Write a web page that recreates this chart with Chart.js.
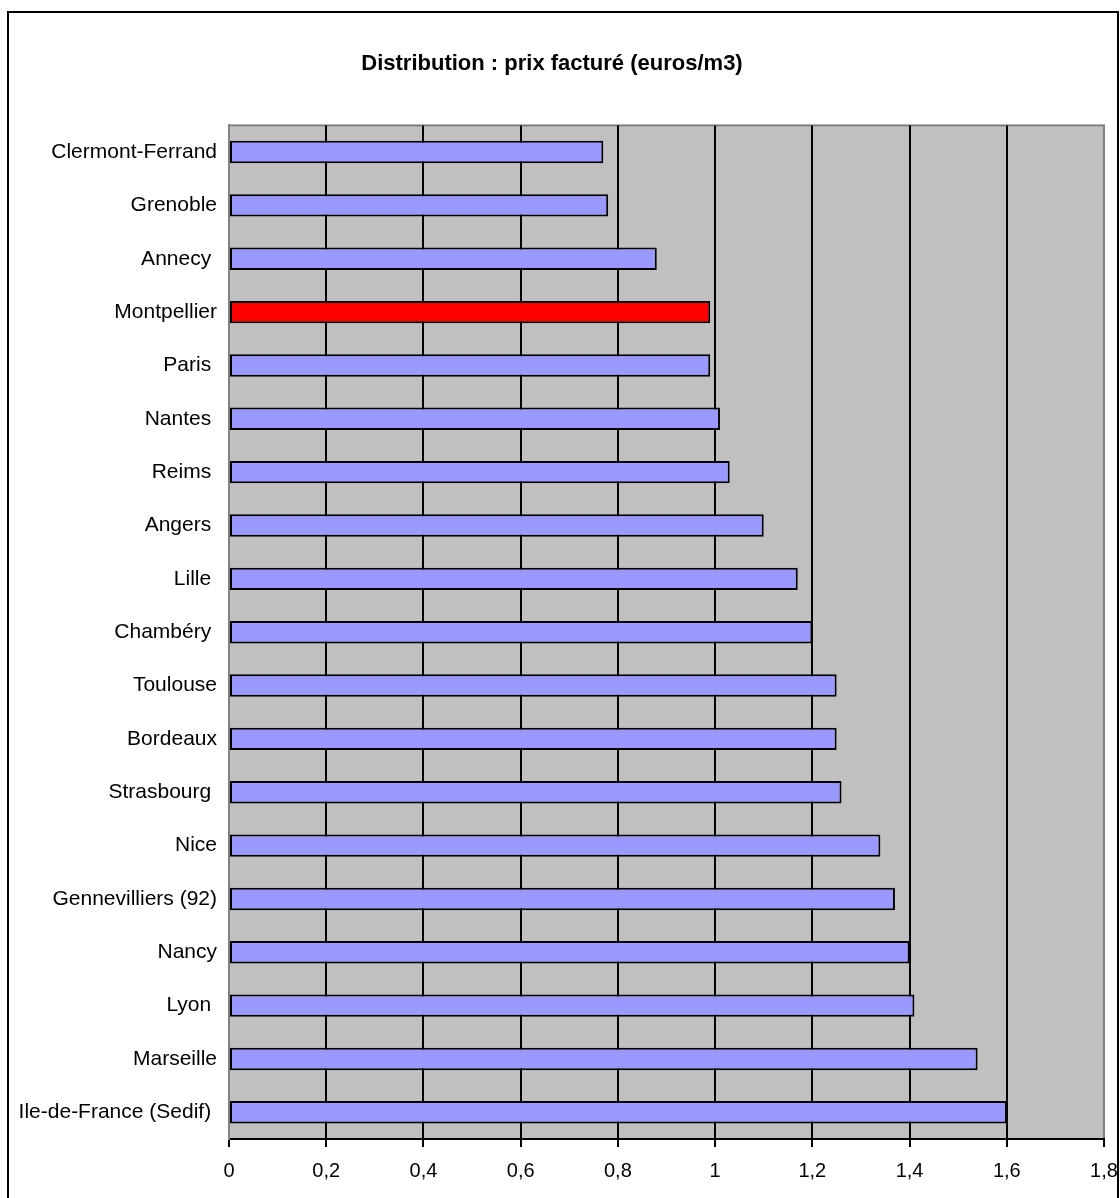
<!DOCTYPE html>
<html>
<head>
<meta charset="utf-8">
<script src="https://cdn.jsdelivr.net/npm/chart.js@4"></script>
<style>
  html, body { margin: 0; padding: 0; background: #fff; overflow: hidden; }
  #wrap { position: relative; width: 1120px; height: 1198px; }
  #frame {
    position: absolute; left: 7px; top: 11px; width: 1108px; height: 1220px;
    border: 2px solid #000; pointer-events: none; z-index: 2;
  }
  canvas { position: absolute; left: 0; top: 0; }
</style>
</head>
<body>
<div id="wrap">
  <canvas id="prixChart" width="1120" height="1198"></canvas>
  <div id="frame"></div>
</div>
<script>
// cities, top to bottom (some labels keep the trailing space of the source sheet)
const villes = [
  'Clermont-Ferrand', 'Grenoble', 'Annecy ', 'Montpellier', 'Paris ', 'Nantes ',
  'Reims ', 'Angers ', 'Lille ', 'Chambéry ', 'Toulouse', 'Bordeaux',
  'Strasbourg ', 'Nice', 'Gennevilliers (92)', 'Nancy', 'Lyon ', 'Marseille',
  'Ile-de-France (Sedif) '
];

// prix facturé, euros/m3
const prix = [
  0.77, 0.78, 0.88, 0.99, 0.99, 1.01,
  1.03, 1.10, 1.17, 1.20, 1.25, 1.25,
  1.26, 1.34, 1.37, 1.40, 1.41, 1.54,
  1.60
];

const villeMiseEnAvant = 'Montpellier';

const xTickLabels = ['0', '0,2', '0,4', '0,6', '0,8', '1', '1,2', '1,4', '1,6', '1,8'];

const barColors = villes.map(v => v === villeMiseEnAvant ? '#FF0000' : '#9999FF');

// grey plot background + grey frame around the plot area
const plotBackground = {
  id: 'plotBackground',
  beforeDraw(chart) {
    const { ctx, chartArea: a } = chart;
    ctx.save();
    ctx.fillStyle = '#C0C0C0';
    ctx.fillRect(a.left, a.top, a.right - a.left, a.bottom - a.top);
    ctx.strokeStyle = '#808080';
    ctx.lineWidth = 2;
    ctx.strokeRect(a.left, a.top, a.right - a.left, a.bottom - a.top);
    ctx.restore();
  }
};

const ctx = document.getElementById('prixChart').getContext('2d');

new Chart(ctx, {
  type: 'bar',
  data: {
    labels: villes,
    datasets: [{
      data: prix,
      backgroundColor: barColors,
      borderColor: '#000',
      borderWidth: 2,
      borderSkipped: false,
      barPercentage: 0.42,
      categoryPercentage: 1
    }]
  },
  options: {
    indexAxis: 'y',
    responsive: false,
    animation: false,
    layout: { padding: { left: 0, right: 16, top: 0, bottom: 0 } },
    plugins: {
      legend: { display: false },
      tooltip: { enabled: false },
      title: {
        display: true,
        text: 'Distribution : prix facturé (euros/m3)',
        color: '#000',
        font: { family: '"Liberation Sans", Arial, sans-serif', size: 22, weight: 'bold', lineHeight: 1.2 },
        padding: { top: 51, bottom: 48 }
      }
    },
    scales: {
      x: {
        min: 0,
        max: 1.8,
        ticks: {
          stepSize: 0.2,
          color: '#000',
          padding: 12,
          maxRotation: 0,
          autoSkip: false,
          font: { family: '"Liberation Sans", Arial, sans-serif', size: 20 },
          callback: (value, index) => xTickLabels[index]
        },
        grid: {
          color: c => (c.tick && (c.index === 0 || c.index === xTickLabels.length - 1)) ? '#808080' : '#000',
          lineWidth: 2,
          tickColor: '#000',
          tickLength: 8
        },
        border: { color: '#000', width: 2 },
        afterFit: s => {
          s.height = 59;
          s.paddingLeft = 0;
          s.paddingRight = 0;
        }
      },
      y: {
        ticks: {
          color: '#000',
          padding: 12,
          autoSkip: false,
          font: { family: '"Liberation Sans", Arial, sans-serif', size: 21 }
        },
        grid: { display: false, drawTicks: false },
        border: { color: '#808080', width: 2 },
        afterFit: s => { s.width = 229; }
      }
    }
  },
  plugins: [plotBackground]
});
</script>
</body>
</html>
